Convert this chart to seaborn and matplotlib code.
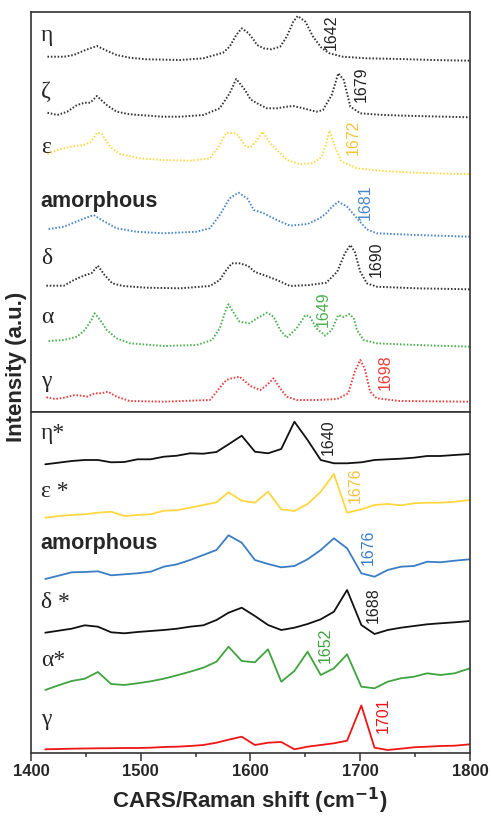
import numpy as np
import pandas as pd
import matplotlib
matplotlib.use("Agg")
import matplotlib.pyplot as plt
import seaborn as sns
from matplotlib.ticker import MultipleLocator

sns.set_theme(style="white")
plt.rcParams['font.family'] = ['Liberation Sans', 'DejaVu Sans']

# ---------------- Raman spectra (top panel, dotted) ----------------
raman_eta_x = [1415, 1430, 1439, 1448, 1460, 1469, 1478, 1490, 1505, 1536, 1557, 1575, 1581, 1587,
               1592, 1598, 1603, 1606, 1612, 1619, 1627, 1633, 1639, 1643, 1650, 1657, 1665, 1672,
               1684, 1706, 1736, 1766, 1800]
raman_eta_y = [4.3, 4.3, 6, 10.3, 15, 10.3, 6, 3.3, 1.7, 1, 2.7, 8.3, 14.3, 26,
               32.7, 28, 21, 16, 12.7, 11.7, 14.3, 24.3, 39.3, 45, 39.3, 24.3, 12.7, 7.7,
               4.3, 2.7, 2, 1, 0.3]

raman_zeta_x = [1415, 1424, 1433, 1442, 1449, 1454, 1460, 1469, 1478, 1490, 1520, 1536, 1557, 1572,
                1581, 1587, 1595, 1600, 1606, 1615, 1624, 1633, 1639, 1648, 1660, 1666, 1674, 1680,
                1685, 1691, 1700, 1721, 1751, 1800]
raman_zeta_y = [5.3, 3, 6.3, 13, 15.3, 15.3, 22, 13, 6.3, 3.7, 1.3, 1.3, 3, 9.7,
                24.7, 39, 28, 18.7, 14.7, 9.7, 9.7, 11.3, 12, 9.7, 6.3, 8, 23, 44.7,
                38, 11.3, 4.7, 3, 2, 0.7]

raman_eps_x = [1415, 1424, 1436, 1448, 1455, 1460, 1464, 1472, 1481, 1499, 1520, 1545, 1563, 1571,
               1578, 1587, 1596, 1600, 1606, 1611, 1618, 1624, 1633, 1645, 1657, 1665, 1669, 1672,
               1677, 1683, 1697, 1721, 1751, 1800]
raman_eps_y = [21, 25, 28.3, 30, 33.3, 42.3, 41.7, 28.3, 21, 16.7, 15, 14.3, 16.7, 28.3,
               42.3, 41.7, 28.3, 27.7, 35, 43.3, 31.7, 25, 15, 11, 11.7, 18.3, 31.7, 44.3,
               28.3, 13.3, 6.7, 4, 2.3, 0.7]

raman_amor_x = [1416, 1430, 1445, 1457, 1466, 1478, 1496, 1521, 1551, 1563, 1572, 1581, 1589, 1597,
                1603, 1612, 1624, 1636, 1652, 1663, 1669, 1674, 1680, 1688, 1697, 1706, 1715, 1751,
                1800]
raman_amor_y = [8, 10.3, 17, 22, 16, 8.7, 5.3, 3.7, 5.3, 8.7, 22, 38.7, 44.3, 38.7,
                27, 23.7, 17, 11.3, 13, 18.7, 23.7, 30, 35.3, 30.3, 18.7, 7.7, 3.7, 2,
                0.3]

raman_delta_x = [1414, 1430, 1439, 1448, 1455, 1461, 1467, 1474, 1484, 1505, 1536, 1563, 1572, 1578,
                 1583, 1590, 1598, 1604, 1612, 1624, 1636, 1654, 1669, 1679, 1686, 1691, 1695, 1700,
                 1706, 1715, 1751, 1800]
raman_delta_y = [4.3, 4.3, 10, 14.3, 16.7, 24.3, 15, 6.7, 4, 2.3, 1.7, 4, 10, 20,
                 26.7, 26.7, 24, 18, 15, 10, 4, 5, 7.3, 18.3, 36.7, 45, 38.3, 18.3,
                 6.7, 3.3, 1.7, 0.7]

raman_alpha_x = [1416, 1430, 1442, 1449, 1455, 1458, 1463, 1469, 1478, 1490, 1521, 1551, 1565, 1572,
                 1578, 1580, 1584, 1590, 1599, 1606, 1615, 1621, 1627, 1633, 1642, 1650, 1654, 1660,
                 1668, 1674, 1680, 1685, 1690, 1694, 1697, 1703, 1715, 1751, 1800]
raman_alpha_y = [6, 7, 10.3, 17, 27, 33.7, 27, 17, 8.7, 3.7, 1, 2, 7, 18.7,
                 38.7, 42.7, 35.3, 25.3, 23.7, 28.7, 34.3, 30.3, 17, 9.3, 18.7, 32, 30.3, 18.7,
                 11.3, 17, 32, 30, 33, 29, 17, 7, 3.7, 2, 0.3]

raman_gamma_x = [1414, 1422, 1430, 1440, 1446, 1451, 1458, 1464, 1470, 1478, 1490, 1521, 1563, 1568,
                 1572, 1578, 1583, 1590, 1600, 1609, 1615, 1621, 1627, 1633, 1642, 1660, 1679, 1689,
                 1695, 1700, 1704, 1709, 1715, 1736, 1800]
raman_gamma_y = [4.7, 3, 4.3, 7, 6.3, 5.3, 8.7, 8.7, 10.3, 5.3, 1, 0.3, 2, 8.7,
                 14.3, 22, 23.7, 25.3, 16, 12, 17, 23.7, 13.7, 5.3, 2, 2, 3, 8.7,
                 30.3, 42, 33.7, 10.3, 3.7, 1, 0.3]

# ---------------- CARS spectra (bottom panel, solid) ----------------
cars_x = [1413, 1425, 1437, 1449, 1461, 1473, 1485, 1497, 1509, 1521, 1533, 1545, 1557, 1569,
          1580, 1592, 1604, 1616, 1628, 1640, 1652, 1664, 1676, 1688, 1701, 1713, 1725, 1737,
          1749, 1761, 1773, 1786, 1800]
cars_eta = [0.7, 2.3, 4, 5, 5, 2.7, 3, 5.7, 5.7, 8.3, 9.3, 11.7, 11.3, 13,
            20.7, 29.3, 13.3, 11.7, 16, 43.3, 25, 5, 1.7, 1.7, 2.7, 5, 5.7, 6.3,
            7.3, 9, 9, 10, 11]
cars_eps = [0.3, 2, 3, 3.7, 5.3, 6.3, 2, 3, 3.7, 7.3, 7.7, 10.3, 13, 15.7,
            25.7, 17.3, 15.3, 26.3, 8.7, 7, 14, 26.3, 44, 5.3, 8.7, 13, 14, 12.7,
            14.7, 15.3, 15.3, 16.3, 18]
cars_amor = [1, 4.3, 7.7, 8, 8.7, 4.7, 5.7, 6.7, 8.3, 13.3, 15.7, 20, 25, 30,
             44.7, 37.3, 20, 16, 12.7, 14, 20.7, 30, 41.7, 31.7, 6.7, 3.3, 10, 13.3,
             14, 18.3, 17.7, 19.3, 20.7]
cars_delta = [2.3, 4.3, 6.3, 9.7, 8.3, 2.7, 1.7, 3, 4, 5, 6.3, 8.3, 9.7, 15,
              22.3, 27.3, 19, 10, 5, 7.3, 11, 15.7, 23.3, 45, 10, 1, 5, 7.3,
              9, 10.7, 11.7, 12.7, 14]
cars_alpha = [0, 4.7, 9, 11.3, 18, 6, 5, 6.7, 8.7, 11.3, 14.7, 18.3, 22.3, 28.3,
              43.3, 29, 27.7, 40.7, 8.3, 19, 38.3, 15, 21.7, 35.7, 3.3, 1.7, 8.3, 11.7,
              13.3, 16.7, 15, 16.7, 21.7]
cars_gamma = [0.7, 1, 1.3, 1.5, 1.7, 1.8, 2, 2, 2.3, 3, 3.3, 4, 5, 7.3,
              10.3, 13.3, 5, 7.3, 8, 0.7, 3.3, 5, 6.7, 9.3, 44.5, 2.3, 0, 1.3,
              2.7, 3.3, 4, 4.3, 5.7]

raman_names = ["η", "ζ", "ε", "amorphous", "δ", "α", "γ"]
cars_names = ["η*", "ε *", "amorphous", "δ *", "α*", "γ"]
raman_peaks = ["1642", "1679", "1672", "1681", "1690", "1649", "1698"]
cars_peaks = ["1640", "1676", "1676", "1688", "1652", "1701"]

xticks = [1400, 1500, 1600, 1700, 1800]

# ---------------- styling / layout ----------------
raman_colors = ["#333333", "#333333", "#FFD84A", "#4A86C8", "#333333", "#4CAF50", "#EE3B3B"]
raman_label_colors = ["#222222", "#222222", "#F7C23E", "#4A86C8", "#222222", "#4CAF50", "#EE3B3B"]
cars_colors = ["#111111", "#FFD740", "#3B7DC4", "#111111", "#3FA33F", "#F01515"]
cars_label_colors = ["#222222", "#F7C23E", "#3B7DC4", "#222222", "#3FA33F", "#F01515"]
raman_offsets = [351, 294, 237, 175, 122, 65, 10]
cars_offsets = [288, 235, 173, 118, 63, 3]
raman_name_y = [377, 321, 264.5, 211, 153, 94.5, 31]
cars_name_y = [320, 262, 210, 151, 92, 34]
raman_peak_pos = [(1674, 362), (1701.3, 310.3), (1693.4, 257), (1704.3, 192),
                  (1714.3, 135.3), (1666.5, 85.3), (1722.6, 22)]
cars_peak_pos = [(1670.6, 298), (1695.2, 250), (1707, 188), (1711.6, 130),
                 (1667.9, 90), (1720.7, 20)]

W, H = 491, 816
fig = plt.figure(figsize=(W / 100, H / 100), dpi=100)
L, R = 31, 470
ax_top = fig.add_axes([L / W, 1 - 412 / H, (R - L) / W, 400 / H])
ax_bot = fig.add_axes([L / W, 1 - 753 / H, (R - L) / W, 341 / H])

raman_sets = [(raman_eta_x, raman_eta_y), (raman_zeta_x, raman_zeta_y), (raman_eps_x, raman_eps_y),
              (raman_amor_x, raman_amor_y), (raman_delta_x, raman_delta_y),
              (raman_alpha_x, raman_alpha_y), (raman_gamma_x, raman_gamma_y)]
for (xs, ys), off, c in zip(raman_sets, raman_offsets, raman_colors):
    df = pd.DataFrame({"x": xs, "y": np.array(ys) + off})
    sns.lineplot(data=df, x="x", y="y", ax=ax_top, color=c, lw=1.4,
                 linestyle=(0, (0.8, 0.95)), estimator=None, sort=False)

cars_sets = [cars_eta, cars_eps, cars_amor, cars_delta, cars_alpha, cars_gamma]
for ys, off, c in zip(cars_sets, cars_offsets, cars_colors):
    df = pd.DataFrame({"x": cars_x, "y": np.array(ys) + off})
    sns.lineplot(data=df, x="x", y="y", ax=ax_bot, color=c, lw=1.3,
                 estimator=None, sort=False)

serif = ['Liberation Serif', 'DejaVu Serif']
name_x = 1408.8
for name, y in zip(raman_names, raman_name_y):
    if name == "amorphous":
        ax_top.text(name_x, y, name, fontsize=15.5, fontweight='bold', ha='left', va='center')
    else:
        ax_top.text(name_x, y, name, fontsize=17, family=serif, ha='left', va='center')
for name, y in zip(cars_names, cars_name_y):
    if name == "amorphous":
        ax_bot.text(name_x, y, name, fontsize=15.5, fontweight='bold', ha='left', va='center')
    else:
        ax_bot.text(name_x, y, name, fontsize=17, family=serif, ha='left', va='center')

for lab, (px, py), c in zip(raman_peaks, raman_peak_pos, raman_label_colors):
    ax_top.text(px, py, lab, rotation=90, fontsize=11.5, color=c, ha='center', va='bottom')
for lab, (px, py), c in zip(cars_peaks, cars_peak_pos, cars_label_colors):
    ax_bot.text(px, py, lab, rotation=90, fontsize=11.5, color=c, ha='center', va='bottom')

for ax, top in ((ax_top, 400), (ax_bot, 341)):
    ax.set_xlim(1400, 1800)
    ax.set_ylim(0, top)
    ax.set_xlabel("")
    ax.set_ylabel("")
    ax.set_yticks([])
    for s in ax.spines.values():
        s.set_color("#333333")
        s.set_linewidth(1.2)

ax_top.set_xticks([])
ax_bot.set_xticks(xticks)
ax_bot.set_xticklabels([str(t) for t in xticks], fontsize=12, fontweight='bold')
ax_bot.xaxis.set_minor_locator(MultipleLocator(50))
ax_bot.tick_params(axis='x', which='major', direction='out', length=6, width=1.1,
                   color="#333333", bottom=True, pad=2)
ax_bot.tick_params(axis='x', which='minor', direction='out', length=3, width=1.1,
                   color="#333333", bottom=True)

fig.text(250 / W, 1 - 801 / H, "CARS/Raman shift (cm$^{\\mathbf{-1}}$)", fontsize=16,
         fontweight='bold', ha='center', va='center')
fig.text(17 / W, 1 - 367 / H, "Intensity (a.u.)", fontsize=16, fontweight='bold',
         rotation=90, ha='center', va='center')

fig.savefig("out.png", dpi=100)
